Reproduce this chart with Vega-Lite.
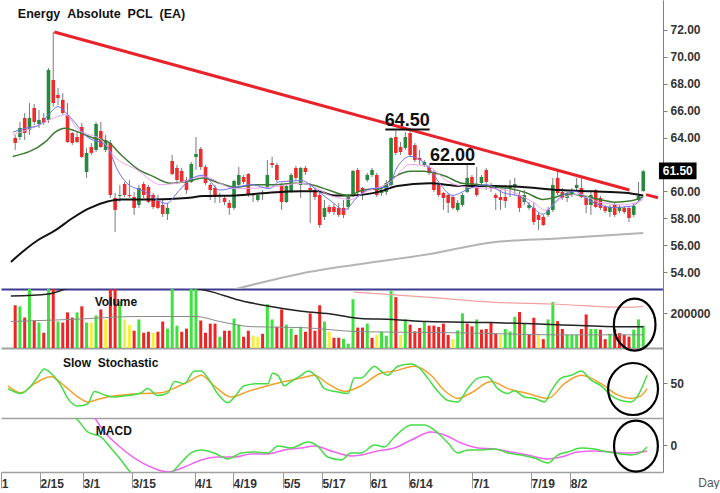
{
  "$schema": "https://vega.github.io/schema/vega-lite/v6.json",
  "description": "Energy Absolute PCL (EA) daily candles with moving averages, volume, slow stochastic and MACD",
  "padding": 0,
  "background": "white",
  "spacing": 0,
  "bounds": "flush",
  "config": {
    "font": "Liberation Sans",
    "view": {"stroke": null},
    "axis": {"grid": false, "title": null, "labelFont": "Liberation Sans", "labelFontWeight": "bold", "labelFontSize": 12, "labelColor": "#333333", "domainColor": "#808080", "tickColor": "#808080"},
    "axisY": {"tickSize": 4, "labelPadding": 3, "labelOverlap": false, "labelFlush": false}
  },
  "datasets": {
    "candles": [
      {"i":0,"o":63.97,"h":64.19,"l":63.08,"c":63.60},{"i":1,"o":64.04,"h":65.16,"l":63.82,"c":64.71},{"i":2,"o":65.46,"h":65.83,"l":63.82,"c":64.34},
      {"i":3,"o":64.57,"h":66.57,"l":64.19,"c":65.46},{"i":4,"o":66.20,"h":66.50,"l":64.94,"c":65.16},{"i":5,"o":65.01,"h":66.05,"l":64.71,"c":65.31},
      {"i":6,"o":65.46,"h":65.83,"l":64.94,"c":65.09},{"i":7,"o":65.31,"h":69.17,"l":65.09,"c":69.03},{"i":8,"o":68.28,"h":71.85,"l":66.30,"c":66.57},
      {"i":9,"o":67.17,"h":67.70,"l":66.40,"c":66.94},{"i":10,"o":66.80,"h":67.30,"l":65.68,"c":65.83},{"i":11,"o":65.68,"h":66.57,"l":63.60,"c":63.67},
      {"i":12,"o":64.34,"h":64.42,"l":63.45,"c":63.60},{"i":13,"o":64.04,"h":64.42,"l":63.60,"c":63.67},{"i":14,"o":64.79,"h":65.09,"l":62.48,"c":62.56},
      {"i":15,"o":61.44,"h":63.23,"l":61.00,"c":62.86},{"i":16,"o":63.30,"h":63.60,"l":62.71,"c":62.86},{"i":17,"o":63.08,"h":65.16,"l":62.93,"c":65.01},
      {"i":18,"o":64.49,"h":65.16,"l":63.23,"c":63.30},{"i":19,"o":63.08,"h":64.19,"l":62.93,"c":63.82},{"i":20,"o":63.60,"h":63.82,"l":59.51,"c":59.73},
      {"i":21,"o":59.51,"h":59.88,"l":56.98,"c":58.62},{"i":22,"o":59.66,"h":60.48,"l":59.21,"c":59.73},{"i":23,"o":60.55,"h":60.70,"l":59.58,"c":59.73},
      {"i":24,"o":59.73,"h":60.85,"l":59.51,"c":59.66},{"i":25,"o":59.58,"h":59.96,"l":58.25,"c":58.77},{"i":26,"o":58.99,"h":60.48,"l":58.77,"c":60.25},
      {"i":27,"o":60.55,"h":60.70,"l":59.51,"c":59.73},{"i":28,"o":60.33,"h":60.48,"l":59.14,"c":59.21},{"i":29,"o":59.73,"h":59.88,"l":58.69,"c":58.84},
      {"i":30,"o":59.29,"h":59.73,"l":58.70,"c":58.77},{"i":31,"o":58.99,"h":59.36,"l":58.10,"c":58.32},{"i":32,"o":58.32,"h":59.14,"l":57.87,"c":58.77},
      {"i":33,"o":62.26,"h":62.71,"l":61.22,"c":61.29},{"i":34,"o":61.74,"h":61.96,"l":60.70,"c":60.85},{"i":35,"o":61.52,"h":61.74,"l":60.62,"c":60.70},
      {"i":36,"o":60.85,"h":61.07,"l":59.81,"c":60.10},{"i":37,"o":60.70,"h":62.19,"l":60.62,"c":62.04},{"i":38,"o":62.56,"h":64.04,"l":61.59,"c":62.78},
      {"i":39,"o":63.15,"h":63.30,"l":61.59,"c":61.81},{"i":40,"o":61.81,"h":61.96,"l":60.48,"c":60.62},{"i":41,"o":60.48,"h":60.62,"l":59.36,"c":60.10},
      {"i":42,"o":60.25,"h":60.48,"l":59.14,"c":59.58},{"i":43,"o":59.62,"h":59.90,"l":59.14,"c":59.73},{"i":44,"o":59.51,"h":59.73,"l":58.99,"c":59.21},
      {"i":45,"o":59.14,"h":59.36,"l":58.25,"c":58.77},{"i":46,"o":58.77,"h":60.85,"l":58.62,"c":60.77},{"i":47,"o":60.48,"h":61.81,"l":60.33,"c":61.22},
      {"i":48,"o":61.07,"h":61.22,"l":60.55,"c":60.70},{"i":49,"o":61.29,"h":61.37,"l":59.58,"c":59.73},{"i":50,"o":59.73,"h":59.88,"l":59.21,"c":59.70},
      {"i":51,"o":59.36,"h":59.88,"l":59.21,"c":59.73},{"i":52,"o":59.85,"h":60.10,"l":59.36,"c":59.90},{"i":53,"o":60.33,"h":62.33,"l":60.25,"c":61.22},
      {"i":54,"o":62.11,"h":62.56,"l":61.74,"c":61.96},{"i":55,"o":61.96,"h":62.11,"l":60.70,"c":60.85},{"i":56,"o":60.48,"h":60.62,"l":58.62,"c":59.21},
      {"i":57,"o":59.21,"h":60.62,"l":59.14,"c":60.40},{"i":58,"o":59.96,"h":61.37,"l":59.88,"c":61.22},{"i":59,"o":61.74,"h":61.89,"l":60.85,"c":61.00},
      {"i":60,"o":60.48,"h":61.81,"l":59.51,"c":61.74},{"i":61,"o":61.74,"h":61.89,"l":61.22,"c":61.44},{"i":62,"o":60.25,"h":60.62,"l":57.65,"c":60.10},
      {"i":63,"o":60.10,"h":60.25,"l":59.36,"c":59.58},{"i":64,"o":59.73,"h":59.88,"l":57.28,"c":57.50},{"i":65,"o":58.10,"h":59.36,"l":57.87,"c":58.77},
      {"i":66,"o":58.84,"h":58.99,"l":58.32,"c":58.47},{"i":67,"o":58.84,"h":59.06,"l":58.25,"c":58.47},{"i":68,"o":58.77,"h":59.14,"l":58.10,"c":58.25},
      {"i":69,"o":58.77,"h":59.36,"l":58.02,"c":58.25},{"i":70,"o":58.84,"h":59.73,"l":58.62,"c":59.58},{"i":71,"o":59.73,"h":61.59,"l":59.58,"c":61.52},
      {"i":72,"o":61.59,"h":61.74,"l":59.73,"c":59.96},{"i":73,"o":60.25,"h":60.33,"l":59.36,"c":59.88},{"i":74,"o":60.85,"h":61.37,"l":60.70,"c":61.22},
      {"i":75,"o":61.22,"h":61.74,"l":61.07,"c":61.59},{"i":76,"o":61.22,"h":61.37,"l":59.58,"c":59.73},{"i":77,"o":59.88,"h":60.33,"l":59.66,"c":60.10},
      {"i":78,"o":59.96,"h":60.85,"l":59.73,"c":60.62},{"i":79,"o":60.48,"h":64.04,"l":60.33,"c":63.97},{"i":80,"o":64.04,"h":64.50,"l":62.71,"c":62.86},
      {"i":81,"o":63.30,"h":63.67,"l":62.71,"c":62.93},{"i":82,"o":63.23,"h":64.42,"l":63.08,"c":64.04},{"i":83,"o":64.34,"h":64.50,"l":62.56,"c":62.71},
      {"i":84,"o":63.45,"h":63.60,"l":62.19,"c":62.33},{"i":85,"o":62.48,"h":63.08,"l":61.96,"c":62.33},{"i":86,"o":61.96,"h":62.33,"l":61.81,"c":62.19},
      {"i":87,"o":61.81,"h":61.96,"l":61.22,"c":61.37},{"i":88,"o":61.44,"h":61.59,"l":59.96,"c":60.10},{"i":89,"o":60.48,"h":60.62,"l":59.58,"c":59.73},
      {"i":90,"o":59.88,"h":59.96,"l":58.62,"c":59.51},{"i":91,"o":59.73,"h":59.88,"l":58.39,"c":59.14},{"i":92,"o":59.58,"h":59.73,"l":58.62,"c":58.77},
      {"i":93,"o":58.62,"h":59.36,"l":58.47,"c":59.14},{"i":94,"o":58.99,"h":59.88,"l":58.84,"c":59.73},{"i":95,"o":59.96,"h":61.96,"l":59.88,"c":61.00},
      {"i":96,"o":61.07,"h":61.22,"l":60.33,"c":60.48},{"i":97,"o":60.48,"h":61.81,"l":59.58,"c":59.73},{"i":98,"o":60.62,"h":61.22,"l":60.40,"c":61.07},
      {"i":99,"o":61.59,"h":61.74,"l":60.10,"c":60.70},{"i":100,"o":60.48,"h":60.62,"l":59.96,"c":60.25},{"i":101,"o":59.73,"h":59.88,"l":58.62,"c":59.51},
      {"i":102,"o":59.58,"h":60.10,"l":58.62,"c":59.36},{"i":103,"o":59.58,"h":60.48,"l":58.77,"c":59.29},{"i":104,"o":60.25,"h":60.85,"l":59.58,"c":60.40},
      {"i":105,"o":60.40,"h":61.00,"l":59.73,"c":60.55},{"i":106,"o":59.73,"h":59.96,"l":58.47,"c":58.77},{"i":107,"o":59.21,"h":60.10,"l":58.99,"c":59.73},
      {"i":108,"o":58.77,"h":59.21,"l":58.62,"c":58.99},{"i":109,"o":58.77,"h":59.21,"l":57.50,"c":57.72},{"i":110,"o":58.25,"h":58.39,"l":57.13,"c":57.87},
      {"i":111,"o":58.10,"h":58.25,"l":57.43,"c":57.50},{"i":112,"o":58.25,"h":58.84,"l":58.10,"c":58.62},{"i":113,"o":58.62,"h":61.00,"l":58.47,"c":60.48},
      {"i":114,"o":61.00,"h":61.59,"l":59.73,"c":59.88},{"i":115,"o":59.96,"h":60.25,"l":59.36,"c":59.51},{"i":116,"o":59.51,"h":59.96,"l":59.21,"c":59.81},
      {"i":117,"o":59.73,"h":60.25,"l":59.58,"c":59.96},{"i":118,"o":60.25,"h":61.00,"l":59.96,"c":60.48},{"i":119,"o":60.25,"h":61.00,"l":59.51,"c":59.58},
      {"i":120,"o":59.51,"h":59.58,"l":58.39,"c":58.99},{"i":121,"o":58.99,"h":59.96,"l":58.25,"c":59.73},{"i":122,"o":60.10,"h":60.18,"l":58.77,"c":58.84},
      {"i":123,"o":59.51,"h":59.66,"l":58.62,"c":58.77},{"i":124,"o":58.84,"h":58.99,"l":58.39,"c":58.54},{"i":125,"o":58.47,"h":58.99,"l":58.10,"c":58.84},
      {"i":126,"o":59.06,"h":59.21,"l":58.10,"c":58.25},{"i":127,"o":58.54,"h":58.99,"l":58.39,"c":58.84},{"i":128,"o":58.77,"h":58.91,"l":58.32,"c":58.47},
      {"i":129,"o":58.77,"h":58.84,"l":57.72,"c":58.02},{"i":130,"o":58.25,"h":59.14,"l":58.10,"c":58.91},{"i":131,"o":59.36,"h":60.70,"l":59.21,"c":59.66},
      {"i":132,"o":60.03,"h":61.59,"l":59.96,"c":61.50}
    ],
    "ma200": [{"i":44.9,"v":52.6},{"i":60.2,"v":53.9},{"i":72.6,"v":54.6},{"i":86.5,"v":55.3},{"i":100.1,"v":56.2},{"i":114.0,"v":56.5},{"i":132.0,"v":56.9}],
    "ma50": [{"i":-0.9,"v":54.75},{"i":2.2,"v":55.7},{"i":4.9,"v":56.4},{"i":8.4,"v":57.1},{"i":12.0,"v":58.0},{"i":15.3,"v":58.7},{"i":19.4,"v":59.25},{"i":22.3,"v":59.4},{"i":29.1,"v":59.4},{"i":36.0,"v":59.5},{"i":39.5,"v":59.65},{"i":46.3,"v":59.7},{"i":53.4,"v":59.9},{"i":60.2,"v":60.0},{"i":63.7,"v":60.0},{"i":67.0,"v":59.7},{"i":70.5,"v":59.7},{"i":76.8,"v":60.0},{"i":80.3,"v":60.4},{"i":87.1,"v":60.6},{"i":93.9,"v":60.4},{"i":101.0,"v":60.4},{"i":107.4,"v":60.3},{"i":114.4,"v":60.1},{"i":121.3,"v":60.0},{"i":128.1,"v":59.9},{"i":132.0,"v":59.7}],
    "ma25": [{"i":-0.5,"v":62.6},{"i":6.4,"v":63.7},{"i":8.4,"v":64.4},{"i":10.5,"v":64.7},{"i":12.6,"v":64.5},{"i":16.1,"v":64.0},{"i":19.4,"v":63.7},{"i":22.3,"v":62.7},{"i":25.6,"v":61.7},{"i":29.1,"v":61.1},{"i":32.6,"v":60.6},{"i":36.8,"v":60.8},{"i":39.5,"v":61.0},{"i":43.0,"v":60.6},{"i":46.3,"v":60.3},{"i":50.5,"v":60.5},{"i":54.6,"v":60.5},{"i":58.7,"v":60.6},{"i":62.3,"v":60.5},{"i":65.8,"v":60.1},{"i":69.9,"v":59.7},{"i":73.2,"v":60.1},{"i":76.8,"v":60.2},{"i":79.4,"v":61.0},{"i":83.0,"v":61.5},{"i":85.7,"v":61.5},{"i":87.7,"v":61.4},{"i":90.6,"v":61.1},{"i":93.9,"v":60.6},{"i":97.5,"v":60.5},{"i":101.0,"v":60.3},{"i":104.1,"v":60.2},{"i":107.4,"v":59.9},{"i":110.9,"v":59.4},{"i":113.0,"v":59.5},{"i":115.7,"v":59.8},{"i":119.2,"v":59.7},{"i":122.7,"v":59.4},{"i":126.0,"v":59.2},{"i":129.5,"v":59.3},{"i":132.0,"v":59.6}],
    "ma10": [{"i":-0.5,"v":64.2},{"i":4.9,"v":64.9},{"i":8.4,"v":65.5},{"i":10.5,"v":65.7},{"i":13.2,"v":64.6},{"i":18.2,"v":63.8},{"i":20.8,"v":62.6},{"i":25.6,"v":61.6},{"i":30.6,"v":60.5},{"i":33.9,"v":60.6},{"i":39.5,"v":61.1},{"i":46.3,"v":60.2},{"i":53.4,"v":60.3},{"i":60.2,"v":60.6},{"i":67.0,"v":59.6},{"i":70.5,"v":59.4},{"i":73.2,"v":59.9},{"i":78.8,"v":60.7},{"i":83.0,"v":62.0},{"i":87.1,"v":61.8},{"i":90.6,"v":60.8},{"i":95.4,"v":60.3},{"i":101.0,"v":60.2},{"i":104.1,"v":60.0},{"i":108.8,"v":59.2},{"i":111.5,"v":58.6},{"i":114.4,"v":59.4},{"i":118.6,"v":59.8},{"i":122.7,"v":59.2},{"i":128.1,"v":59.0},{"i":132.0,"v":59.4}],
    "ma5": [{"i":-0.5,"v":64.4},{"i":2.2,"v":64.7},{"i":4.9,"v":64.9},{"i":7.0,"v":65.7},{"i":9.0,"v":66.3},{"i":10.5,"v":65.9},{"i":12.6,"v":65.1},{"i":15.3,"v":64.0},{"i":18.2,"v":63.6},{"i":19.4,"v":63.3},{"i":21.5,"v":61.6},{"i":23.5,"v":60.6},{"i":27.1,"v":60.0},{"i":31.8,"v":59.1},{"i":34.3,"v":60.0},{"i":36.8,"v":60.9},{"i":39.5,"v":61.2},{"i":43.0,"v":60.1},{"i":46.3,"v":60.3},{"i":49.8,"v":60.5},{"i":53.4,"v":60.2},{"i":55.4,"v":60.7},{"i":60.2,"v":60.8},{"i":63.7,"v":60.0},{"i":67.0,"v":59.1},{"i":69.1,"v":58.6},{"i":72.0,"v":59.6},{"i":74.7,"v":60.2},{"i":78.2,"v":60.3},{"i":80.3,"v":61.8},{"i":83.0,"v":62.6},{"i":85.7,"v":62.2},{"i":87.1,"v":61.7},{"i":89.2,"v":60.6},{"i":91.9,"v":59.7},{"i":95.4,"v":60.2},{"i":98.9,"v":60.5},{"i":102.6,"v":59.9},{"i":106.1,"v":59.6},{"i":108.8,"v":58.8},{"i":110.9,"v":58.3},{"i":113.0,"v":59.0},{"i":115.0,"v":59.7},{"i":117.7,"v":60.0},{"i":119.8,"v":59.5},{"i":122.7,"v":59.0},{"i":126.0,"v":58.8},{"i":129.5,"v":58.9},{"i":132.0,"v":59.6}],
    "vol": [
      {"i":0,"v":247000,"t":"dn"},{"i":1,"v":241000,"t":"up"},{"i":2,"v":176000,"t":"dn"},{"i":3,"v":360000,"t":"up"},{"i":4,"v":159000,"t":"dn"},{"i":5,"v":147000,"t":"up"},
      {"i":6,"v":88000,"t":"dn"},{"i":7,"v":360000,"t":"up"},{"i":8,"v":360000,"t":"dn"},{"i":9,"v":153000,"t":"up"},{"i":10,"v":147000,"t":"dn"},{"i":11,"v":206000,"t":"dn"},
      {"i":12,"v":176000,"t":"dn"},{"i":13,"v":206000,"t":"up"},{"i":14,"v":241000,"t":"dn"},{"i":15,"v":147000,"t":"up"},{"i":16,"v":147000,"t":"eq"},{"i":17,"v":188000,"t":"up"},
      {"i":18,"v":223000,"t":"dn"},{"i":19,"v":165000,"t":"eq"},{"i":20,"v":360000,"t":"dn"},{"i":21,"v":360000,"t":"dn"},{"i":22,"v":270000,"t":"up"},{"i":23,"v":165000,"t":"eq"},
      {"i":24,"v":135000,"t":"eq"},{"i":25,"v":100000,"t":"dn"},{"i":26,"v":165000,"t":"up"},{"i":27,"v":88000,"t":"dn"},{"i":28,"v":94000,"t":"dn"},{"i":29,"v":88000,"t":"eq"},
      {"i":30,"v":94000,"t":"dn"},{"i":31,"v":153000,"t":"dn"},{"i":32,"v":112000,"t":"up"},{"i":33,"v":360000,"t":"up"},{"i":34,"v":129000,"t":"up"},{"i":35,"v":94000,"t":"dn"},
      {"i":36,"v":112000,"t":"dn"},{"i":37,"v":360000,"t":"up"},{"i":38,"v":360000,"t":"up"},{"i":39,"v":159000,"t":"dn"},{"i":40,"v":88000,"t":"dn"},{"i":41,"v":141000,"t":"dn"},
      {"i":42,"v":141000,"t":"dn"},{"i":43,"v":65000,"t":"up"},{"i":44,"v":100000,"t":"dn"},{"i":45,"v":100000,"t":"dn"},{"i":46,"v":170000,"t":"up"},{"i":47,"v":135000,"t":"up"},
      {"i":48,"v":65000,"t":"dn"},{"i":49,"v":100000,"t":"dn"},{"i":50,"v":71000,"t":"eq"},{"i":51,"v":65000,"t":"eq"},{"i":52,"v":82000,"t":"dn"},{"i":53,"v":253000,"t":"up"},
      {"i":54,"v":165000,"t":"up"},{"i":55,"v":123000,"t":"dn"},{"i":56,"v":223000,"t":"dn"},{"i":57,"v":135000,"t":"up"},{"i":58,"v":112000,"t":"up"},{"i":59,"v":76000,"t":"dn"},
      {"i":60,"v":123000,"t":"up"},{"i":61,"v":94000,"t":"dn"},{"i":62,"v":200000,"t":"dn"},{"i":63,"v":100000,"t":"dn"},{"i":64,"v":247000,"t":"dn"},{"i":65,"v":153000,"t":"up"},
      {"i":66,"v":94000,"t":"eq"},{"i":67,"v":59000,"t":"dn"},{"i":68,"v":59000,"t":"dn"},{"i":69,"v":53000,"t":"up"},{"i":70,"v":25000,"t":"up"},{"i":71,"v":282000,"t":"up"},
      {"i":72,"v":118000,"t":"dn"},{"i":73,"v":118000,"t":"dn"},{"i":74,"v":141000,"t":"up"},{"i":75,"v":59000,"t":"dn"},{"i":76,"v":76000,"t":"eq"},{"i":77,"v":94000,"t":"up"},
      {"i":78,"v":71000,"t":"up"},{"i":79,"v":330000,"t":"up"},{"i":80,"v":294000,"t":"dn"},{"i":81,"v":76000,"t":"eq"},{"i":82,"v":165000,"t":"up"},{"i":83,"v":135000,"t":"dn"},
      {"i":84,"v":96000,"t":"dn"},{"i":85,"v":116000,"t":"dn"},{"i":86,"v":149000,"t":"up"},{"i":87,"v":129000,"t":"dn"},{"i":88,"v":129000,"t":"dn"},{"i":89,"v":122000,"t":"dn"},
      {"i":90,"v":141000,"t":"dn"},{"i":91,"v":76000,"t":"dn"},{"i":92,"v":51000,"t":"eq"},{"i":93,"v":102000,"t":"up"},{"i":94,"v":200000,"t":"up"},{"i":95,"v":141000,"t":"dn"},
      {"i":96,"v":125000,"t":"dn"},{"i":97,"v":165000,"t":"up"},{"i":98,"v":106000,"t":"dn"},{"i":99,"v":110000,"t":"dn"},{"i":100,"v":149000,"t":"dn"},{"i":101,"v":82000,"t":"dn"},
      {"i":102,"v":76000,"t":"eq"},{"i":103,"v":110000,"t":"up"},{"i":104,"v":95000,"t":"up"},{"i":105,"v":180000,"t":"up"},{"i":106,"v":208000,"t":"dn"},{"i":107,"v":141000,"t":"up"},
      {"i":108,"v":76000,"t":"dn"},{"i":109,"v":175000,"t":"dn"},{"i":110,"v":76000,"t":"eq"},{"i":111,"v":51000,"t":"dn"},{"i":112,"v":165000,"t":"up"},{"i":113,"v":266000,"t":"up"},
      {"i":114,"v":155000,"t":"dn"},{"i":115,"v":110000,"t":"dn"},{"i":116,"v":76000,"t":"up"},{"i":117,"v":76000,"t":"up"},{"i":118,"v":76000,"t":"up"},{"i":119,"v":110000,"t":"dn"},
      {"i":120,"v":194000,"t":"dn"},{"i":121,"v":110000,"t":"up"},{"i":122,"v":110000,"t":"up"},{"i":123,"v":106000,"t":"dn"},{"i":124,"v":51000,"t":"dn"},{"i":125,"v":82000,"t":"up"},
      {"i":126,"v":110000,"t":"dn"},{"i":127,"v":86000,"t":"dn"},{"i":128,"v":76000,"t":"dn"},{"i":129,"v":66000,"t":"dn"},{"i":130,"v":106000,"t":"up"},{"i":131,"v":165000,"t":"up"},
      {"i":132,"v":129000,"t":"up"}
    ],
    "vb": [{"i":-0.9,"v":300000},{"i":7.0,"v":312000},{"i":12.0,"v":350000},{"i":25.0,"v":365000},{"i":36.0,"v":352000},{"i":41.5,"v":323000},{"i":46.3,"v":282000},{"i":53.4,"v":241000},{"i":60.2,"v":212000},{"i":67.0,"v":194000},{"i":72.6,"v":170000},{"i":79.4,"v":165000},{"i":86.5,"v":153000},{"i":100.1,"v":147000},{"i":114.0,"v":135000},{"i":127.9,"v":123000},{"i":132.0,"v":123000}],
    "vg": [{"i":-0.9,"v":153000},{"i":11.9,"v":165000},{"i":25.6,"v":182000},{"i":38.0,"v":182000},{"i":43.0,"v":153000},{"i":49.8,"v":123000},{"i":60.2,"v":118000},{"i":72.6,"v":94000},{"i":93.3,"v":88000},{"i":114.0,"v":76000},{"i":132.0,"v":76000}],
    "vp": [{"i":71.2,"v":323000},{"i":86.5,"v":294000},{"i":100.1,"v":265000},{"i":114.0,"v":253000},{"i":127.9,"v":235000},{"i":132.0,"v":241000}],
    "sk": [{"i":-0.5,"v":42},{"i":2.2,"v":35},{"i":4.3,"v":46},{"i":5.7,"v":59},{"i":7.0,"v":70},{"i":8.4,"v":64},{"i":10.5,"v":46},{"i":11.9,"v":28},{"i":14.0,"v":17},{"i":16.0,"v":20},{"i":17.4,"v":38},{"i":19.5,"v":33},{"i":21.5,"v":30},{"i":24.3,"v":32},{"i":27.1,"v":36},{"i":28.4,"v":42},{"i":30.5,"v":32},{"i":32.6,"v":36},{"i":34.0,"v":52},{"i":36.0,"v":49},{"i":38.1,"v":67},{"i":39.5,"v":67},{"i":40.9,"v":57},{"i":42.9,"v":35},{"i":45.0,"v":22},{"i":46.4,"v":30},{"i":48.4,"v":46},{"i":51.2,"v":49},{"i":53.3,"v":49},{"i":54.3,"v":64},{"i":55.4,"v":61},{"i":56.7,"v":46},{"i":58.1,"v":52},{"i":60.2,"v":61},{"i":61.6,"v":67},{"i":63.6,"v":57},{"i":65.0,"v":42},{"i":67.1,"v":38},{"i":69.9,"v":35},{"i":71.2,"v":57},{"i":72.6,"v":57},{"i":75.4,"v":74},{"i":76.7,"v":67},{"i":78.1,"v":61},{"i":80.2,"v":74},{"i":83.0,"v":77},{"i":84.7,"v":71},{"i":86.4,"v":57},{"i":88.5,"v":38},{"i":90.6,"v":25},{"i":92.6,"v":23},{"i":94.7,"v":42},{"i":96.8,"v":57},{"i":98.8,"v":59},{"i":100.9,"v":42},{"i":103.0,"v":35},{"i":104.3,"v":39},{"i":106.4,"v":30},{"i":108.5,"v":28},{"i":110.6,"v":23},{"i":111.9,"v":38},{"i":114.0,"v":57},{"i":116.1,"v":61},{"i":118.2,"v":67},{"i":120.2,"v":54},{"i":122.3,"v":46},{"i":124.4,"v":32},{"i":126.4,"v":25},{"i":128.5,"v":23},{"i":129.9,"v":32},{"i":131.8,"v":61}],
    "sd": [{"i":-0.5,"v":46},{"i":2.2,"v":36},{"i":5.0,"v":49},{"i":8.4,"v":59},{"i":11.2,"v":46},{"i":14.0,"v":30},{"i":16.0,"v":23},{"i":18.8,"v":28},{"i":22.2,"v":32},{"i":27.1,"v":35},{"i":31.2,"v":36},{"i":34.7,"v":45},{"i":37.4,"v":54},{"i":39.5,"v":61},{"i":42.2,"v":46},{"i":45.7,"v":30},{"i":49.2,"v":38},{"i":53.3,"v":46},{"i":56.7,"v":52},{"i":60.2,"v":57},{"i":62.9,"v":61},{"i":65.7,"v":49},{"i":69.2,"v":38},{"i":72.6,"v":46},{"i":76.7,"v":64},{"i":79.5,"v":67},{"i":83.6,"v":74},{"i":87.1,"v":61},{"i":89.9,"v":39},{"i":92.6,"v":28},{"i":95.4,"v":36},{"i":99.5,"v":52},{"i":103.0,"v":42},{"i":107.1,"v":35},{"i":111.3,"v":28},{"i":114.7,"v":49},{"i":118.2,"v":61},{"i":122.3,"v":49},{"i":125.7,"v":33},{"i":128.5,"v":28},{"i":130.6,"v":32},{"i":131.8,"v":42}],
    "mm": [{"i":-0.9,"v":3.0},{"i":10.5,"v":2.4},{"i":13.95,"v":1.67},{"i":16.0,"v":0.87},{"i":18.8,"v":0.53},{"i":20.8,"v":-0.2},{"i":22.9,"v":-1.0},{"i":25.0,"v":-1.87},{"i":29.1,"v":-2.6},{"i":33.3,"v":-1.87},{"i":35.3,"v":-1.2},{"i":37.4,"v":-0.53},{"i":39.5,"v":-0.33},{"i":42.2,"v":-0.53},{"i":45.0,"v":-0.93},{"i":47.8,"v":-0.53},{"i":50.5,"v":-0.47},{"i":53.3,"v":-0.53},{"i":55.4,"v":-0.07},{"i":58.1,"v":-0.2},{"i":61.6,"v":0.2},{"i":63.6,"v":-0.07},{"i":65.7,"v":-0.8},{"i":68.5,"v":-1.0},{"i":70.5,"v":-0.53},{"i":72.6,"v":-0.53},{"i":75.4,"v":0},{"i":77.4,"v":-0.13},{"i":79.5,"v":0.53},{"i":83.0,"v":1.33},{"i":85.7,"v":1.33},{"i":88.5,"v":0.8},{"i":90.6,"v":0.13},{"i":92.6,"v":-0.53},{"i":94.7,"v":-0.33},{"i":97.5,"v":-0.33},{"i":100.2,"v":-0.27},{"i":103.0,"v":-0.53},{"i":105.7,"v":-0.67},{"i":108.5,"v":-0.87},{"i":111.3,"v":-1.2},{"i":113.3,"v":-0.67},{"i":115.4,"v":-0.47},{"i":118.2,"v":-0.2},{"i":120.9,"v":-0.27},{"i":123.7,"v":-0.47},{"i":126.4,"v":-0.6},{"i":128.5,"v":-0.67},{"i":130.6,"v":-0.47},{"i":131.8,"v":-0.13}],
    "ms": [{"i":16.7,"v":2.2},{"i":19.5,"v":0.87},{"i":22.2,"v":0},{"i":25.7,"v":-0.87},{"i":29.1,"v":-1.47},{"i":32.6,"v":-1.8},{"i":36.0,"v":-1.47},{"i":39.5,"v":-1.0},{"i":42.9,"v":-0.8},{"i":46.4,"v":-0.8},{"i":49.8,"v":-0.6},{"i":53.3,"v":-0.6},{"i":56.7,"v":-0.33},{"i":60.2,"v":-0.2},{"i":62.9,"v":-0.07},{"i":67.1,"v":-0.47},{"i":70.5,"v":-0.73},{"i":72.6,"v":-0.67},{"i":76.0,"v":-0.4},{"i":79.5,"v":-0.2},{"i":83.0,"v":0.33},{"i":87.1,"v":0.87},{"i":89.9,"v":0.67},{"i":93.3,"v":0.13},{"i":96.8,"v":-0.2},{"i":100.2,"v":-0.27},{"i":103.7,"v":-0.47},{"i":107.1,"v":-0.67},{"i":111.3,"v":-0.93},{"i":114.0,"v":-0.8},{"i":117.5,"v":-0.47},{"i":120.9,"v":-0.4},{"i":124.4,"v":-0.47},{"i":127.8,"v":-0.53},{"i":130.6,"v":-0.47},{"i":131.8,"v":-0.4}]
  },
  "vconcat": [
    {
      "width": 662,
      "height": 289,
      "encoding": {"x": {"field": "i", "type": "quantitative", "scale": {"domain": [-1.93, 135.1], "nice": false, "zero": false}, "axis": {"labels": false, "ticks": false, "domainColor": "#3b3b8f", "domainWidth": 2}}},
      "layer": [
        {"data": {"name": "ma200"}, "mark": {"type": "line", "color": "#b4b4b4", "strokeWidth": 2, "clip": true, "interpolate": "monotone"},
         "encoding": {"y": {"field": "v", "type": "quantitative", "scale": {"domain": [52.74, 74.23], "nice": false, "zero": false}, "axis": {"orient": "right", "values": [54, 56, 58, 60, 64, 66, 68, 70, 72], "tickCount": 30, "format": ".2f", "labelOverlap": false}}}},
        {"data": {"name": "candles"}, "mark": {"type": "rule", "color": "#7a7a7a", "strokeWidth": 1},
         "encoding": {"y": {"field": "l", "type": "quantitative", "scale": {"domain": [52.74, 74.23], "nice": false, "zero": false}}, "y2": {"field": "h"}}},
        {"data": {"name": "candles"}, "mark": {"type": "bar", "width": 3.6},
         "encoding": {"y": {"field": "o", "type": "quantitative", "scale": {"domain": [52.74, 74.23], "nice": false, "zero": false}}, "y2": {"field": "c"},
                      "color": {"condition": {"test": "datum.c >= datum.o", "value": "#258a3d"}, "value": "#ef2b2b"}}},
        {"data": {"name": "ma50"}, "mark": {"type": "line", "color": "#111111", "strokeWidth": 2, "clip": true, "interpolate": "monotone"},
         "encoding": {"y": {"field": "v", "type": "quantitative", "scale": {"domain": [52.74, 74.23], "nice": false, "zero": false}}}},
        {"data": {"name": "ma25"}, "mark": {"type": "line", "color": "#3f7a35", "strokeWidth": 1.5, "interpolate": "monotone"},
         "encoding": {"y": {"field": "v", "type": "quantitative", "scale": {"domain": [52.74, 74.23], "nice": false, "zero": false}}}},
        {"data": {"name": "ma10"}, "mark": {"type": "line", "color": "#f0a4f0", "strokeWidth": 1, "interpolate": "monotone"},
         "encoding": {"y": {"field": "v", "type": "quantitative", "scale": {"domain": [52.74, 74.23], "nice": false, "zero": false}}}},
        {"data": {"name": "ma5"}, "mark": {"type": "line", "color": "#6f6ff0", "strokeWidth": 1, "interpolate": "monotone"},
         "encoding": {"y": {"field": "v", "type": "quantitative", "scale": {"domain": [52.74, 74.23], "nice": false, "zero": false}}}},
        {"data": {"values": [{"g": "a", "i": 8.22, "v": 71.85}, {"g": "a", "i": 129.1, "v": 60.1}, {"g": "b", "i": 132.6, "v": 59.76}, {"g": "b", "i": 135.1, "v": 59.52}]},
         "mark": {"type": "line", "color": "#e8232b", "strokeWidth": 3},
         "encoding": {"y": {"field": "v", "type": "quantitative", "scale": {"domain": [52.74, 74.23], "nice": false, "zero": false}}, "detail": {"field": "g"}}},
        {"data": {"values": [{"i": 77.8, "i2": 87.1, "v": 64.6}, {"i": 87.1, "i2": 96.6, "v": 62.04}]},
         "mark": {"type": "rule", "color": "#111111", "strokeWidth": 2},
         "encoding": {"x2": {"field": "i2"}, "y": {"field": "v", "type": "quantitative", "scale": {"domain": [52.74, 74.23], "nice": false, "zero": false}}}},
        {"data": {"values": [{"t": "64.50", "i": 82.4, "v": 64.83}, {"t": "62.00", "i": 91.9, "v": 62.26}]},
         "mark": {"type": "text", "fontSize": 18, "fontWeight": "bold", "baseline": "alphabetic", "align": "center", "color": "#111111"},
         "encoding": {"y": {"field": "v", "type": "quantitative", "scale": {"domain": [52.74, 74.23], "nice": false, "zero": false}}, "text": {"field": "t"}}},
        {"data": {"values": [{"t": "Energy\u00a0\u00a0Absolute\u00a0\u00a0PCL\u00a0\u00a0(EA)", "i": 0.56, "v": 73.19}]},
         "mark": {"type": "text", "fontSize": 12.5, "fontWeight": "bold", "baseline": "middle", "align": "left", "color": "#111111"},
         "encoding": {"y": {"field": "v", "type": "quantitative", "scale": {"domain": [52.74, 74.23], "nice": false, "zero": false}}, "text": {"field": "t"}}},
        {"data": {"values": [{"i": 135.3, "i2": 143.2, "v": 60.9, "v2": 62.15}]},
         "mark": {"type": "rect", "color": "#000000"},
         "encoding": {"x2": {"field": "i2"}, "y": {"field": "v", "type": "quantitative", "scale": {"domain": [52.74, 74.23], "nice": false, "zero": false}}, "y2": {"field": "v2"}}},
        {"data": {"values": [{"t": "61.50", "i": 139.25, "v": 61.52}]},
         "mark": {"type": "text", "fontSize": 12, "fontWeight": "bold", "baseline": "middle", "align": "center", "color": "#ffffff"},
         "encoding": {"y": {"field": "v", "type": "quantitative", "scale": {"domain": [52.74, 74.23], "nice": false, "zero": false}}, "text": {"field": "t"}}}
      ]
    },
    {
      "width": 662,
      "height": 59,
      "encoding": {"x": {"field": "i", "type": "quantitative", "scale": {"domain": [-1.93, 135.1], "nice": false, "zero": false}, "axis": {"labels": false, "ticks": false, "domainColor": "#a0a0a0", "domainWidth": 2}}},
      "layer": [
        {"data": {"name": "vol"}, "mark": {"type": "bar", "width": 3, "clip": true},
         "encoding": {"y": {"field": "v", "type": "quantitative", "scale": {"domain": [0, 341000], "nice": false}, "axis": {"orient": "right", "values": [200000], "format": "d"}},
                      "color": {"field": "t", "type": "nominal", "scale": {"domain": ["up", "dn", "eq"], "range": ["#3ee23e", "#f02424", "#f6f03c"]}, "legend": null}}},
        {"data": {"name": "vg"}, "mark": {"type": "line", "color": "#8a8a8a", "strokeWidth": 1, "clip": true, "interpolate": "monotone"},
         "encoding": {"y": {"field": "v", "type": "quantitative", "scale": {"domain": [0, 341000], "nice": false}}}},
        {"data": {"name": "vp"}, "mark": {"type": "line", "color": "#f2a0a0", "strokeWidth": 1.2, "clip": true, "interpolate": "monotone"},
         "encoding": {"y": {"field": "v", "type": "quantitative", "scale": {"domain": [0, 341000], "nice": false}}}},
        {"data": {"name": "vb"}, "mark": {"type": "line", "color": "#222222", "strokeWidth": 1.5, "clip": true, "interpolate": "monotone"},
         "encoding": {"y": {"field": "v", "type": "quantitative", "scale": {"domain": [0, 341000], "nice": false}}}},
        {"data": {"values": [{"t": "Volume", "i": 16.7, "v": 267000}]},
         "mark": {"type": "text", "fontSize": 12, "fontWeight": "bold", "baseline": "middle", "align": "left", "color": "#111111"},
         "encoding": {"y": {"field": "v", "type": "quantitative", "scale": {"domain": [0, 341000], "nice": false}}, "text": {"field": "t"}}},
        {"data": {"values": [{"i": 130.2, "v": 135000}]},
         "mark": {"type": "point", "shape": "M0.8,0C0.8,0.552,0.442,1,0,1C-0.442,1,-0.8,0.552,-0.8,0C-0.8,-0.552,-0.442,-1,0,-1C0.442,-1,0.8,-0.552,0.8,0Z", "filled": false, "color": "#000000", "strokeWidth": 2.2, "size": 2704, "opacity": 1},
         "encoding": {"y": {"field": "v", "type": "quantitative", "scale": {"domain": [0, 341000], "nice": false}}}}
      ]
    },
    {
      "width": 662,
      "height": 70,
      "encoding": {"x": {"field": "i", "type": "quantitative", "scale": {"domain": [-1.93, 135.1], "nice": false, "zero": false}, "axis": {"labels": false, "ticks": false, "domainColor": "#a0a0a0", "domainWidth": 1.5}}},
      "layer": [
        {"data": {"name": "sd"}, "mark": {"type": "line", "color": "#f5a02c", "strokeWidth": 1.5, "interpolate": "monotone"},
         "encoding": {"y": {"field": "v", "type": "quantitative", "scale": {"domain": [0, 100], "nice": false}, "axis": {"orient": "right", "values": [50]}}}},
        {"data": {"name": "sk"}, "mark": {"type": "line", "color": "#44dd44", "strokeWidth": 1.5, "interpolate": "monotone"},
         "encoding": {"y": {"field": "v", "type": "quantitative", "scale": {"domain": [0, 100], "nice": false}}}},
        {"data": {"values": [{"t": "Slow\u00a0\u00a0Stochastic", "i": 10.9, "v": 78.6}]},
         "mark": {"type": "text", "fontSize": 12, "fontWeight": "bold", "baseline": "middle", "align": "left", "color": "#111111"},
         "encoding": {"y": {"field": "v", "type": "quantitative", "scale": {"domain": [0, 100], "nice": false}}, "text": {"field": "t"}}},
        {"data": {"values": [{"i": 128.9, "v": 41.4}]},
         "mark": {"type": "point", "shape": "M0.96,0C0.96,0.552,0.53,1,0,1C-0.53,1,-0.96,0.552,-0.96,0C-0.96,-0.552,-0.53,-1,0,-1C0.53,-1,0.96,-0.552,0.96,0Z", "filled": false, "color": "#000000", "strokeWidth": 2.2, "size": 2704, "opacity": 1},
         "encoding": {"y": {"field": "v", "type": "quantitative", "scale": {"domain": [0, 100], "nice": false}}}}
      ]
    },
    {
      "width": 662,
      "height": 54,
      "encoding": {"x": {"field": "i", "type": "quantitative", "scale": {"domain": [-1.93, 135.1], "nice": false, "zero": false},
        "axis": {"values": [-1.9, 6.15, 15.05, 25.2, 38.2, 46.1, 56.5, 64.5, 74.5, 82.5, 95.6, 107.8, 115.9], "tickCount": 30,
                 "labelExpr": "['1','2/15','3/1','3/15','4/1','4/19','5/5','5/17','6/1','6/14','7/1','7/19','8/2'][indexof([-1.9, 6.15, 15.05, 25.2, 38.2, 46.1, 56.5, 64.5, 74.5, 82.5, 95.6, 107.8, 115.9], datum.value)]",
                 "labelAlign": "left", "labelDx": 2, "tickSize": 16, "tickColor": "#999999", "labelPadding": -10, "labelFlush": false, "labelOverlap": false, "labelBound": false,
                 "domainColor": "#a0a0a0", "domainWidth": 1.5}}},
      "layer": [
        {"data": {"name": "ms"}, "mark": {"type": "line", "color": "#ee66ee", "strokeWidth": 1.5, "clip": true, "interpolate": "monotone"},
         "encoding": {"y": {"field": "v", "type": "quantitative", "scale": {"domain": [-1.8, 1.8], "nice": false, "zero": false}, "axis": {"orient": "right", "values": [0]}}}},
        {"data": {"name": "mm"}, "mark": {"type": "line", "color": "#44dd44", "strokeWidth": 1.5, "clip": true, "interpolate": "monotone"},
         "encoding": {"y": {"field": "v", "type": "quantitative", "scale": {"domain": [-1.8, 1.8], "nice": false, "zero": false}}}},
        {"data": {"values": [{"t": "MACD", "i": 17.7, "v": 0.93}]},
         "mark": {"type": "text", "fontSize": 12, "fontWeight": "bold", "baseline": "middle", "align": "left", "color": "#111111"},
         "encoding": {"y": {"field": "v", "type": "quantitative", "scale": {"domain": [-1.8, 1.8], "nice": false, "zero": false}}, "text": {"field": "t"}}},
        {"data": {"values": [{"i": 129.5, "v": -0.07}]},
         "mark": {"type": "point", "shape": "M0.86,0C0.86,0.552,0.475,1,0,1C-0.475,1,-0.86,0.552,-0.86,0C-0.86,-0.552,-0.475,-1,0,-1C0.475,-1,0.86,-0.552,0.86,0Z", "filled": false, "color": "#000000", "strokeWidth": 2.2, "size": 2601, "opacity": 1},
         "encoding": {"y": {"field": "v", "type": "quantitative", "scale": {"domain": [-1.8, 1.8], "nice": false, "zero": false}}}},
        {"data": {"values": [{"t": "Day", "i": 142.4, "v": -2.53}]},
         "mark": {"type": "text", "fontSize": 12, "baseline": "middle", "align": "left", "color": "#555555"},
         "encoding": {"y": {"field": "v", "type": "quantitative", "scale": {"domain": [-1.8, 1.8], "nice": false, "zero": false}}, "text": {"field": "t"}}}
      ]
    }
  ]
}
